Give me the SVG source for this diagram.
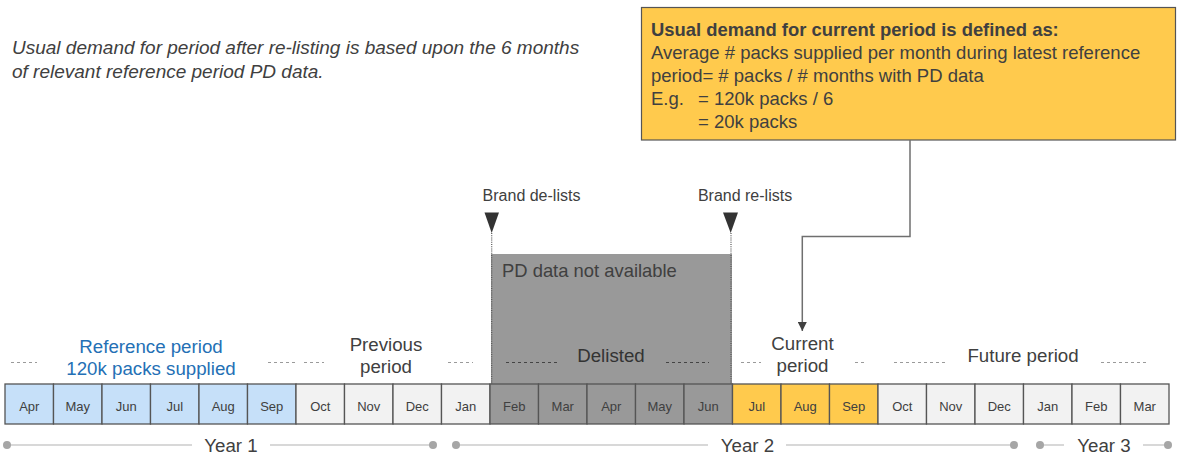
<svg xmlns="http://www.w3.org/2000/svg" width="1177" height="457" viewBox="0 0 1177 457">
<defs>
<style>
text{font-family:"Liberation Sans",Arial,sans-serif;fill:#404040}
.m{font-size:13px;text-anchor:middle}
.lbl{font-size:18.7px;text-anchor:middle}
.cell{stroke:#555;stroke-width:1.3}
.b{fill:#C6E0F9}.g{fill:#F2F2F2}.d{fill:#999999}.y{fill:#FFCA4D}
.dash{stroke:#9a9a9a;stroke-width:1;stroke-dasharray:3 3;fill:none}
.axis{stroke:#cccccc;stroke-width:1.5;fill:none}
.dot{fill:#a6a6a6}
.dotted{stroke:#555;stroke-width:1.2;stroke-dasharray:1 1.2;fill:none}
</style>
<marker id="arr" viewBox="0 0 10 10" refX="10" refY="5" markerWidth="9" markerHeight="9" markerUnits="userSpaceOnUse" orient="auto">
<path d="M0,0 L10,5 L0,10 z" fill="#404040"/>
</marker>
</defs>
<rect width="1177" height="457" fill="#ffffff"/>

<g id="note">
<text x="12" y="54" font-size="19" font-style="italic">Usual demand for period after re-listing is based upon the 6 months</text>
<text x="12" y="78" font-size="19" font-style="italic">of relevant reference period PD data.</text>
</g>

<g id="callout">
<rect x="641.5" y="7.5" width="534" height="132.5" fill="#FFCA4D" stroke="#555" stroke-width="1.2"/>
<text x="651" y="35.5" font-size="18.4" font-weight="bold">Usual demand for current period is defined as:</text>
<text x="651" y="58.5" font-size="18.5">Average # packs supplied per month during latest reference</text>
<text x="651" y="81.5" font-size="18.5">period= # packs / # months with PD data</text>
<text x="651" y="104.5" font-size="18.5">E.g.</text>
<text x="698" y="104.5" font-size="18.5">= 120k packs / 6</text>
<text x="698" y="127.5" font-size="18.5">= 20k packs</text>
</g>

<g id="delisted-area">
<rect x="491" y="254" width="241" height="130" fill="#999999"/>
<text x="502" y="277" font-size="18.4" fill="#333">PD data not available</text>
</g>

<g id="brand-delists">
<text x="531.5" y="201" font-size="16" text-anchor="middle">Brand de-lists</text>
<path d="M484.5,212.5 L499,212.5 L491.7,233 z" fill="#333"/>
</g>
<g id="brand-relists">
<text x="745" y="201" font-size="16" text-anchor="middle">Brand re-lists</text>
<path d="M723,212.5 L738,212.5 L730.7,233 z" fill="#333"/>
</g>

<g id="connectors">
<path class="dotted" d="M491.7,233 V384"/>
<path class="dotted" d="M731,233 V384"/>
<path d="M910,140 V236.5 H802.3 V331" fill="none" stroke="#6f6f6f" stroke-width="1.5" marker-end="url(#arr)"/>
</g>

<g id="period-labels">
<g id="reference-period">
<text class="lbl" x="151" y="353" style="fill:#2470B5">Reference period</text>
<text class="lbl" x="151" y="374.5" style="fill:#2470B5">120k packs supplied</text>
<path class="dash" d="M11,362.5 H37 M268,362.5 H295"/>
</g>
<g id="previous-period">
<text class="lbl" x="386" y="351">Previous</text>
<text class="lbl" x="386" y="373">period</text>
<path class="dash" d="M304,362.5 H324 M448,362.5 H473"/>
</g>
<g id="delisted">
<text class="lbl" x="611" y="361.5" style="fill:#333">Delisted</text>
<path class="dotted" style="stroke:#444;stroke-dasharray:3 3" d="M506,362.5 H559 M666,362.5 H709"/>
</g>
<g id="current-period">
<text class="lbl" x="802.5" y="350">Current</text>
<text class="lbl" x="802.5" y="372">period</text>
<path class="dash" d="M741,362.5 H761 M855,362.5 H864"/>
</g>
<g id="future-period">
<text class="lbl" x="1023" y="361.5">Future period</text>
<path class="dash" d="M894,362.5 H947 M1101,362.5 H1148"/>
</g>
</g>

<g id="months">
<g id="m1"><rect class="cell b" x="5" y="384" width="48.5" height="40"/><text class="m" x="29.25" y="410.5">Apr</text></g>
<g id="m2"><rect class="cell b" x="53.5" y="384" width="48.5" height="40"/><text class="m" x="77.75" y="410.5">May</text></g>
<g id="m3"><rect class="cell b" x="102" y="384" width="48.5" height="40"/><text class="m" x="126.25" y="410.5">Jun</text></g>
<g id="m4"><rect class="cell b" x="150.5" y="384" width="48.5" height="40"/><text class="m" x="174.75" y="410.5">Jul</text></g>
<g id="m5"><rect class="cell b" x="199" y="384" width="48.5" height="40"/><text class="m" x="223.25" y="410.5">Aug</text></g>
<g id="m6"><rect class="cell b" x="247.5" y="384" width="48.5" height="40"/><text class="m" x="271.75" y="410.5">Sep</text></g>
<g id="m7"><rect class="cell g" x="296" y="384" width="48.5" height="40"/><text class="m" x="320.25" y="410.5">Oct</text></g>
<g id="m8"><rect class="cell g" x="344.5" y="384" width="48.5" height="40"/><text class="m" x="368.75" y="410.5">Nov</text></g>
<g id="m9"><rect class="cell g" x="393" y="384" width="48.5" height="40"/><text class="m" x="417.25" y="410.5">Dec</text></g>
<g id="m10"><rect class="cell g" x="441.5" y="384" width="48.5" height="40"/><text class="m" x="465.75" y="410.5">Jan</text></g>
<g id="m11"><rect class="cell d" x="490" y="384" width="48.5" height="40"/><text class="m" x="514.25" y="410.5">Feb</text></g>
<g id="m12"><rect class="cell d" x="538.5" y="384" width="48.5" height="40"/><text class="m" x="562.75" y="410.5">Mar</text></g>
<g id="m13"><rect class="cell d" x="587" y="384" width="48.5" height="40"/><text class="m" x="611.25" y="410.5">Apr</text></g>
<g id="m14"><rect class="cell d" x="635.5" y="384" width="48.5" height="40"/><text class="m" x="659.75" y="410.5">May</text></g>
<g id="m15"><rect class="cell d" x="684" y="384" width="48.5" height="40"/><text class="m" x="708.25" y="410.5">Jun</text></g>
<g id="m16"><rect class="cell y" x="732.5" y="384" width="48.5" height="40"/><text class="m" x="756.75" y="410.5">Jul</text></g>
<g id="m17"><rect class="cell y" x="781" y="384" width="48.5" height="40"/><text class="m" x="805.25" y="410.5">Aug</text></g>
<g id="m18"><rect class="cell y" x="829.5" y="384" width="48.5" height="40"/><text class="m" x="853.75" y="410.5">Sep</text></g>
<g id="m19"><rect class="cell g" x="878" y="384" width="48.5" height="40"/><text class="m" x="902.25" y="410.5">Oct</text></g>
<g id="m20"><rect class="cell g" x="926.5" y="384" width="48.5" height="40"/><text class="m" x="950.75" y="410.5">Nov</text></g>
<g id="m21"><rect class="cell g" x="975" y="384" width="48.5" height="40"/><text class="m" x="999.25" y="410.5">Dec</text></g>
<g id="m22"><rect class="cell g" x="1023.5" y="384" width="48.5" height="40"/><text class="m" x="1047.75" y="410.5">Jan</text></g>
<g id="m23"><rect class="cell g" x="1072" y="384" width="48.5" height="40"/><text class="m" x="1096.25" y="410.5">Feb</text></g>
<g id="m24"><rect class="cell g" x="1120.5" y="384" width="48.5" height="40"/><text class="m" x="1144.75" y="410.5">Mar</text></g>
</g>

<g id="years">
<g id="year1">
<path class="axis" d="M7,445 H192 M270,445 H433"/>
<circle class="dot" cx="7" cy="445" r="4"/><circle class="dot" cx="433" cy="445" r="4"/>
<text class="lbl" x="231" y="451.5">Year 1</text>
</g>
<g id="year2">
<path class="axis" d="M456,445 H708 M786,445 H1014"/>
<circle class="dot" cx="456" cy="445" r="4"/><circle class="dot" cx="1014" cy="445" r="4"/>
<text class="lbl" x="747.5" y="451.5">Year 2</text>
</g>
<g id="year3">
<path class="axis" d="M1040,445 H1064 M1143,445 H1168"/>
<circle class="dot" cx="1040" cy="445" r="4"/><circle class="dot" cx="1168" cy="445" r="4"/>
<text class="lbl" x="1104" y="451.5">Year 3</text>
</g>
</g>
</svg>
